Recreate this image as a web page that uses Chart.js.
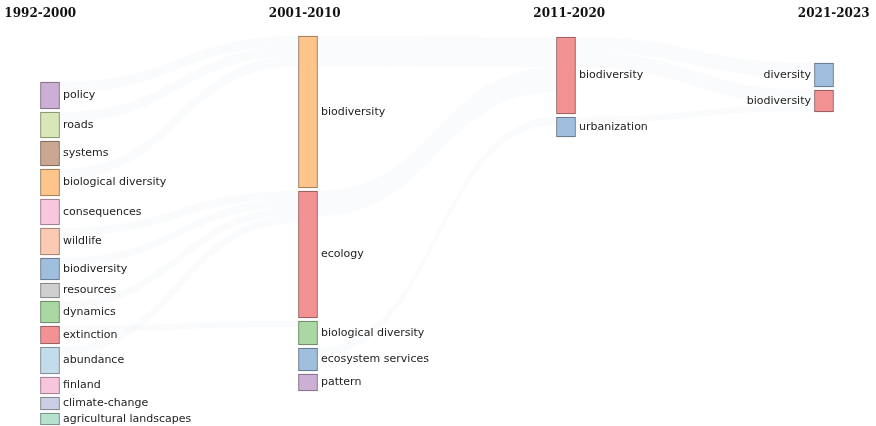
<!DOCTYPE html>
<html>
<head>
<meta charset="utf-8">
<script src="https://cdn.jsdelivr.net/npm/chart.js@4.4.1/dist/chart.umd.min.js"></script>
<style>
  body { margin: 0; background: #ffffff; }
  #wrap { width: 876px; height: 426px; position: relative; }
</style>
</head>
<body>
<div id="wrap"><canvas id="sankeyChart"></canvas></div>
<script>
// periods (columns)
const periods = ["1992-2000", "2001-2010", "2011-2020", "2021-2023"];

// keywords and their weights per period
const terms1 = ["policy", "roads", "systems", "biological diversity", "consequences", "wildlife",
  "biodiversity", "resources", "dynamics", "extinction", "abundance", "finland",
  "climate-change", "agricultural landscapes"];
const counts1 = [27, 26, 25, 27, 26, 27, 22, 15, 22, 18, 27, 17, 13, 12];
const colors1 = ["#cdaed5", "#d7e7b6", "#c9a790", "#fdc58a", "#f8c7de", "#fccab3",
  "#a0bfde", "#cfcfcf", "#aad8a2", "#f29293", "#c3dcea", "#f7c6dd", "#cbcfe4", "#b5e1cf"];

const terms2 = ["biodiversity", "ecology", "biological diversity", "ecosystem services", "pattern"];
const counts2 = [152, 127, 24, 23, 17];
const colors2 = ["#fdc58a", "#f29293", "#aad8a2", "#a0bfde", "#cdaed5"];

const terms3 = ["biodiversity", "urbanization"];
const counts3 = [77, 20];
const colors3 = ["#f29293", "#a0bfde"];

const terms4 = ["diversity", "biodiversity"];
const counts4 = [24, 22];
const colors4 = ["#a0bfde", "#f29293"];

// faint flows between periods: [from period, source term, target term, weight]
const links = [
  [0, "policy", "biodiversity", 10],
  [0, "roads", "biodiversity", 10],
  [0, "biological diversity", "biodiversity", 10],
  [0, "wildlife", "ecology", 8],
  [0, "biodiversity", "ecology", 8],
  [0, "dynamics", "ecology", 8],
  [0, "abundance", "ecology", 8],
  [0, "extinction", "biological diversity", 6],
  [1, "biodiversity", "biodiversity", 30],
  [1, "ecology", "biodiversity", 25],
  [1, "ecosystem services", "urbanization", 8],
  [2, "biodiversity", "diversity", 15],
  [2, "biodiversity", "biodiversity", 15],
  [2, "urbanization", "biodiversity", 6],
];

// layout: where each column starts and the gap between nodes (in value units)
const colTop = [82, 36, 37, 63];
const nodeGap = 3;

const terms = [terms1, terms2, terms3, terms4];
const counts = [counts1, counts2, counts3, counts4];
const colors = [colors1, colors2, colors3, colors4];

function darker(hex, k) {
  let r = parseInt(hex.slice(1, 3), 16),
    g = parseInt(hex.slice(3, 5), 16),
    b = parseInt(hex.slice(5, 7), 16);
  return `rgb(${Math.round(r * k)},${Math.round(g * k)},${Math.round(b * k)})`;
}

// stack nodes inside each column
let ranges = counts.map((col, c) => {
  let pos = colTop[c];
  return col.map((v) => {
    let r = [pos, pos + v];
    pos += v + nodeGap;
    return r;
  });
});

let maxRows = Math.max(...counts.map((c) => c.length));
let datasets = [];
for (let i = 0; i < maxRows; i++) {
  datasets.push({
    data: ranges.map((col) => (col[i] ? col[i] : null)),
    backgroundColor: colors.map((col) => col[i] || "#ffffff"),
    borderColor: colors.map((col) => (col[i] ? darker(col[i], 0.55) : "#ffffff")),
    borderWidth: 1,
    borderSkipped: false,
    barThickness: 19,
    grouped: false,
    clip: false,
    names: terms.map((col) => col[i] || ""),
  });
}

const flowPlugin = {
  id: "flows",
  beforeDatasetsDraw(chart) {
    const ctx = chart.ctx;
    const xs = chart.scales.x, ys = chart.scales.y;
    let outOff = counts.map((col) => col.map(() => 0));
    let inOff = counts.map((col) => col.map(() => 0));
    ctx.save();
    ctx.fillStyle = "rgba(190,210,218,0.08)";
    links.forEach(([c, s, t, v]) => {
      let si = terms[c].indexOf(s), ti = terms[c + 1].indexOf(t);
      let s0 = ranges[c][si][0] + outOff[c][si];
      let t0 = ranges[c + 1][ti][0] + inOff[c + 1][ti];
      outOff[c][si] += v;
      inOff[c + 1][ti] += v;
      let x0 = xs.getPixelForValue(c) + 9.5, x1 = xs.getPixelForValue(c + 1) - 9.5;
      let xm = (x0 + x1) / 2;
      let a0 = ys.getPixelForValue(s0), a1 = ys.getPixelForValue(s0 + v);
      let b0 = ys.getPixelForValue(t0), b1 = ys.getPixelForValue(t0 + v);
      ctx.beginPath();
      ctx.moveTo(x0, a0);
      ctx.bezierCurveTo(xm, a0, xm, b0, x1, b0);
      ctx.lineTo(x1, b1);
      ctx.bezierCurveTo(xm, b1, xm, a1, x0, a1);
      ctx.closePath();
      ctx.fill();
    });
    ctx.restore();
  },
  afterDatasetsDraw(chart) {
    const ctx = chart.ctx;
    const xs = chart.scales.x;
    ctx.save();
    ctx.font = "11px 'DejaVu Sans'";
    ctx.fillStyle = "#222222";
    ctx.textBaseline = "middle";
    chart.data.datasets.forEach((ds, i) => {
      chart.getDatasetMeta(i).data.forEach((bar, c) => {
        if (!ds.names[c]) return;
        let mid = (bar.y + bar.base) / 2;
        if (c === periods.length - 1) {
          ctx.textAlign = "right";
          ctx.fillText(ds.names[c], bar.x - 13, mid);
        } else {
          ctx.textAlign = "left";
          ctx.fillText(ds.names[c], bar.x + 13, mid);
        }
      });
    });
    // period headings
    ctx.font = "bold 12px 'DejaVu Serif'";
    ctx.fillStyle = "#111111";
    ctx.textAlign = "center";
    periods.forEach((p, c) => {
      ctx.fillText(p, xs.getPixelForValue(c) + (c - 1.5) * 6.5, 14);
    });
    ctx.restore();
  },
};

new Chart("sankeyChart", {
  type: "bar",
  data: {
    labels: periods,
    datasets: datasets,
  },
  options: {
    responsive: true,
    maintainAspectRatio: false,
    animation: false,
    layout: { padding: { left: 50, right: 52, top: 0, bottom: 0 } },
    plugins: {
      legend: { display: false },
      tooltip: { enabled: false },
    },
    scales: {
      x: { display: false, offset: false },
      y: { display: false, min: 0, max: 426, reverse: true },
    },
  },
  plugins: [flowPlugin],
});
</script>
</body>
</html>
